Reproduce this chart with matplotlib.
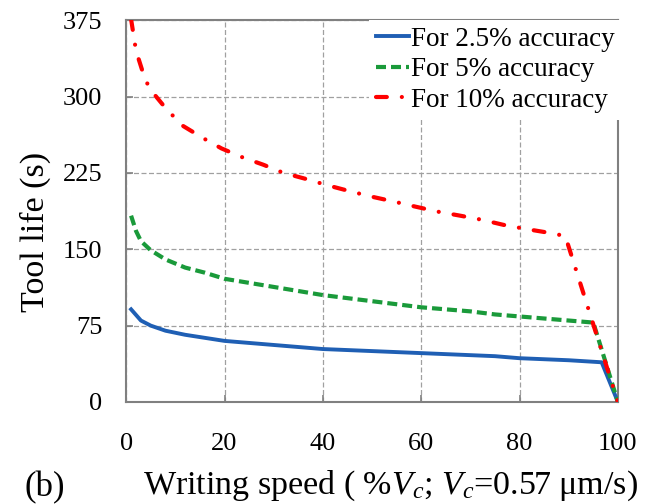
import matplotlib
matplotlib.use("Agg")
import matplotlib.pyplot as plt

plt.rcParams['font.family'] = ['Liberation Serif', 'DejaVu Serif']
plt.rcParams['mathtext.fontset'] = 'custom'
plt.rcParams['mathtext.rm'] = 'Liberation Serif'
plt.rcParams['mathtext.it'] = 'Liberation Serif:italic'

# values
x_blue = [1, 3, 5, 8, 12, 16, 20, 25, 30, 35, 40, 45, 50, 55, 60, 65, 70, 75, 80, 85, 90, 96.7, 100]
y_blue = [91, 80, 75, 70, 66, 63, 60, 58, 56, 54, 52, 51, 50, 49, 48, 47, 46, 45, 43, 42, 41, 39, 0]

x_green = [1, 2, 3, 5, 8, 12, 16, 20, 25, 30, 35, 40, 45, 50, 55, 60, 65, 70, 75, 80, 85, 90, 95, 100]
y_green = [183, 168, 158, 149, 140, 132, 127, 121, 117, 113, 109, 105, 102, 99, 96, 93, 91, 89, 86, 84, 82, 80, 78, 0]

x_red = [1, 2, 3.9, 5.4, 8.3, 11.6, 15.7, 19.4, 23.8, 27.9, 32, 36.6, 40.8, 45.5, 49.6, 54.3,
         58.7, 63.3, 67.9, 72.3, 76.7, 81.2, 86.2, 89.3, 100]
y_red = [376, 345, 316, 304, 287, 271, 259, 249, 240, 233, 225, 219, 213, 207, 202, 197,
         192, 187, 183, 179, 174, 170, 166, 163, 0]

labels = ['For 2.5% accuracy', 'For 5% accuracy', 'For 10% accuracy']
xticks = [0, 20, 40, 60, 80, 100]
yticks = [0, 75, 150, 225, 300, 375]

fig = plt.figure(figsize=(6.47, 5.04), dpi=100)
ax = fig.add_axes([0.195, 0.2024, 0.76, 0.7576])

ax.plot(x_blue, y_blue, color='#1f5fb4', lw=2.8, label=labels[0], zorder=3)
ax.plot(x_green, y_green, color='#1a9a3a', lw=3, dashes=(2.4, 1.2), label=labels[1], zorder=4)
ax.plot(x_red, y_red, color='#ff0000', lw=3, dashes=(2.6, 3.6, 0.01, 3.6),
        dash_capstyle='round', label=labels[2], zorder=5)

ax.set_xlim(0, 100)
ax.set_ylim(0, 375)
ax.set_xticks(xticks)
ax.set_yticks(yticks)
ax.grid(True, color='#a0a0a0', lw=0.9, ls=(0, (4, 2)))
ax.set_axisbelow(True)

for s in ax.spines.values():
    s.set_color('#808080')
    s.set_linewidth(1.5)
ax.tick_params(direction='in', length=5, width=1.2, color='#808080', labelsize=19)
ax.tick_params(axis='x', pad=22)
ax.tick_params(axis='y', pad=17)

ax.set_ylabel('Tool life (s)', fontsize=24.5)
ax.yaxis.set_label_coords(-0.152, 0.445)
ax.set_xlabel('Writing speed ( %$V_c$; $V_c$=0.57 \u03bcm/s)', fontsize=24.5)
ax.xaxis.set_label_coords(0.537, -0.175)

leg = ax.legend(loc='upper right', bbox_to_anchor=(1.008, 1.0), fontsize=19.5,
                handlelength=1.2, handletextpad=0.1, labelspacing=0.2,
                borderaxespad=0.0, borderpad=0.25, frameon=True, fancybox=False)
leg.get_frame().set_edgecolor('none')
leg.get_frame().set_facecolor('white')
leg.get_frame().set_alpha(1)

fig.text(0.038, 0.0, '(b)', fontsize=25, ha='left', va='bottom')

fig.savefig('out.png', dpi=100)
